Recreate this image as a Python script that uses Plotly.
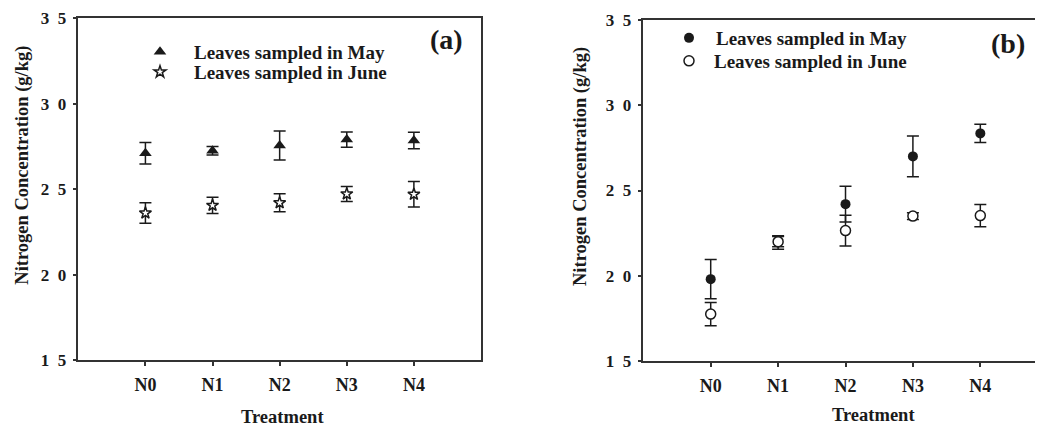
import plotly.graph_objects as go

treatments = ["N0", "N1", "N2", "N3", "N4"]

# Panel (a)
a_may = [27.1, 27.25, 27.55, 27.9, 27.85]
a_may_err = [0.63, 0.25, 0.85, 0.45, 0.48]
a_june = [23.6, 24.05, 24.2, 24.72, 24.7]
a_june_err = [0.6, 0.48, 0.53, 0.44, 0.75]

# Panel (b)
b_may = [19.8, 21.95, 24.2, 27.0, 28.35]
b_may_err = [1.15, 0.4, 1.05, 1.2, 0.53]
b_june = [17.75, 22.0, 22.65, 23.5, 23.53]
b_june_err = [0.68, 0.3, 0.9, 0.2, 0.65]

y_ticks = [15, 20, 25, 30, 35]
y_ticktext = ["1\u00a0\u00a05", "2\u00a0\u00a00", "2\u00a0\u00a05", "3\u00a0\u00a00", "3\u00a0\u00a05"]

FONT = "Liberation Serif"
INK = "#1a1a1a"
IMG_W, IMG_H = 1043, 428
OFF = 8  # default page body margin
W, H = IMG_W - OFF, IMG_H - OFF

def err(vals):
    return dict(type="data", array=vals, visible=True, color=INK, thickness=1.5, width=6)

fig = go.Figure()

fig.add_trace(go.Scatter(x=treatments, y=a_may, mode="markers", name="Leaves sampled in May",
                         error_y=err(a_may_err), xaxis="x", yaxis="y", legend="legend",
                         marker=dict(symbol="triangle-up", size=11, color=INK)))
fig.add_trace(go.Scatter(x=treatments, y=a_june, mode="markers", name="Leaves sampled in June",
                         error_y=err(a_june_err), xaxis="x", yaxis="y", legend="legend2",
                         marker=dict(symbol="star", size=9, color="white", line=dict(color=INK, width=1.5))))
fig.add_trace(go.Scatter(x=treatments, y=b_may, mode="markers", name="Leaves sampled in May",
                         error_y=err(b_may_err), xaxis="x2", yaxis="y2", legend="legend3",
                         marker=dict(symbol="circle", size=10, color=INK)))
fig.add_trace(go.Scatter(x=treatments, y=b_june, mode="markers", name="Leaves sampled in June",
                         error_y=err(b_june_err), xaxis="x2", yaxis="y2", legend="legend4",
                         marker=dict(symbol="circle", size=10, color="white", line=dict(color=INK, width=1.5))))

def px_x(p):
    return (p - OFF) / W

def px_y(p):
    return 1 - (p - OFF) / H

xcommon = dict(type="category", showline=True, linecolor="#333", linewidth=1.5, ticks="outside",
               ticklen=4, tickcolor="#333", tickwidth=1.5, showgrid=False, zeroline=False,
               tickfont=dict(family=FONT, size=18, color=INK, weight="bold"), ticklabelstandoff=4)
ycommon = dict(showline=True, linecolor="#333", linewidth=1.5, ticks="outside", ticklen=4,
               tickcolor="#333", tickwidth=1.5, showgrid=False, zeroline=False, range=[15, 35],
               tickvals=y_ticks, ticktext=y_ticktext,
               tickfont=dict(family=FONT, size=17, color=INK, weight="bold"), ticklabelstandoff=3)

leg_font = dict(family=FONT, size=19, color=INK, weight="bold")

def legend_at(sym_x, sym_y, text_x):
    iw = max(30, 2 * (text_x - sym_x - 5))
    left = sym_x - (iw / 2 + 5)
    return dict(x=px_x(left), y=px_y(sym_y), xanchor="left", yanchor="middle", itemwidth=iw,
                bgcolor="rgba(0,0,0,0)", borderwidth=0, font=leg_font)

fig.update_layout(
    width=W, height=H, margin=dict(l=0, r=0, t=0, b=0, autoexpand=False),
    paper_bgcolor="white", plot_bgcolor="white",
    xaxis=dict(**xcommon, domain=[px_x(78.3), px_x(481)], range=[-1, 5], anchor="y", mirror=True),
    yaxis=dict(**ycommon, domain=[px_y(360), px_y(18.3)], anchor="x", mirror=True),
    xaxis2=dict(**xcommon, domain=[px_x(643.3), 1.0], range=[-1, 4.93], anchor="y2", mirror=True),
    yaxis2=dict(**ycommon, domain=[px_y(361), px_y(20)], anchor="x2", mirror=False),
    legend=legend_at(160, 52, 194),
    legend2=legend_at(160, 72, 194),
    legend3=legend_at(689, 38, 716),
    legend4=legend_at(689, 61, 714),
    showlegend=True,
)

ann_font = dict(family=FONT, size=18.5, color=INK, weight="bold")
annotations = [
    dict(text="Nitrogen Concentration (g/kg)", x=px_x(21.7), y=px_y(165), textangle=-90, font=ann_font),
    dict(text="Nitrogen Concentration (g/kg)", x=px_x(580), y=px_y(167), textangle=-90, font=ann_font),
    dict(text="Treatment", x=px_x(282.7), y=px_y(416.5), font=ann_font),
    dict(text="Treatment", x=px_x(873), y=px_y(415), font=ann_font),
    dict(text="(a)", x=px_x(446.5), y=px_y(40), font=dict(family=FONT, size=28, color=INK, weight="bold")),
    dict(text="(b)", x=px_x(1008), y=px_y(43), font=dict(family=FONT, size=28, color=INK, weight="bold")),
]
for a in annotations:
    a.update(xref="paper", yref="paper", showarrow=False, xanchor="center", yanchor="middle")
fig.update_layout(annotations=annotations)

fig.write_html("out.html")
